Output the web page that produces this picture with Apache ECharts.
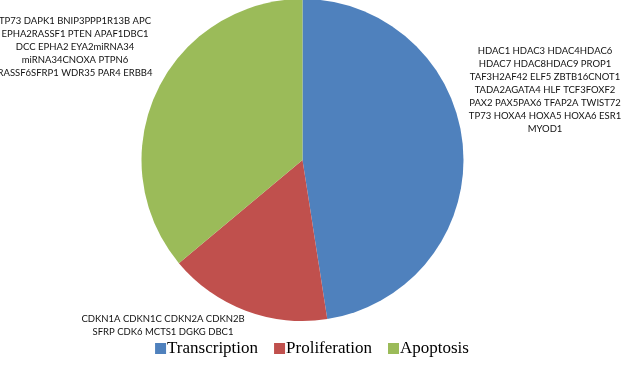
<!DOCTYPE html>
<html><head><meta charset="utf-8">
<script src="https://cdn.jsdelivr.net/npm/echarts@6/dist/echarts.min.js"></script>
<style>html,body{margin:0;padding:0;background:#fff}#c{width:624px;height:367px}</style>
</head><body><div id="c"></div>
<script>
const categories = ['Transcription', 'Proliferation', 'Apoptosis'];
const values = [29, 10, 22];
const geneLabels = [
  'HDAC1 HDAC3 HDAC4HDAC6\nHDAC7 HDAC8HDAC9 PROP1\nTAF3H2AF42 ELF5 ZBTB16CNOT1\nTADA2AGATA4 HLF TCF3FOXF2\nPAX2 PAX5PAX6 TFAP2A TWIST72\nTP73 HOXA4 HOXA5 HOXA6 ESR1\nMYOD1',
  'CDKN1A CDKN1C CDKN2A CDKN2B\nSFRP CDK6 MCTS1 DGKG DBC1',
  'TP73 DAPK1 BNIP3PPP1R13B APC\nEPHA2RASSF1 PTEN APAF1DBC1\nDCC EPHA2 EYA2miRNA34\nmiRNA34CNOXA PTPN6\nRASSF6SFRP1 WDR35 PAR4 ERBB4'
];
const colors = ['#4F81BD', '#C0504D', '#9BBB59'];
const labelPos = [[545, 44], [163, 312], [75, 14]];

const chart = echarts.init(document.getElementById('c'));
chart.setOption({
  animation: false,
  color: colors,
  legend: {
    bottom: 5,
    left: 'center',
    icon: 'rect',
    itemWidth: 11,
    itemHeight: 11,
    itemGap: 16,
    textStyle: { fontFamily: 'Liberation Serif', fontSize: 17, color: '#000', padding: [0, 0, 0, -4] },
    data: categories
  },
  series: [{
    type: 'pie',
    center: [302.5, 160],
    radius: [0, 161],
    startAngle: 90,
    clockwise: true,
    data: categories.map((c, i) => ({ name: c, value: values[i] })),
    label: {
      show: true,
      formatter: p => geneLabels[p.dataIndex],
      fontFamily: 'Lato',
      fontSize: 9.5,
      lineHeight: 13,
      color: '#111',
      align: 'center',
      overflow: 'none',
      width: 220
    },
    labelLine: { show: false },
    labelLayout: p => ({
      x: labelPos[p.dataIndex][0],
      y: labelPos[p.dataIndex][1],
      align: 'center',
      verticalAlign: 'top'
    }),
    emphasis: { disabled: true }
  }]
});
</script></body></html>
